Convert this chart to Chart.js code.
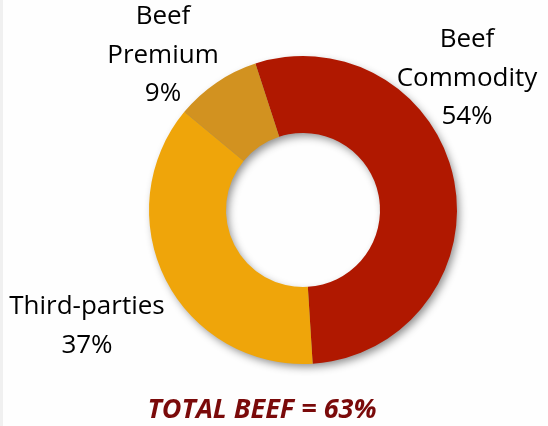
<!DOCTYPE html>
<html>

<head>
   <meta charset="UTF-8">
   <title>Beef Split</title>
   <script src="https://cdn.jsdelivr.net/npm/chart.js@4"></script>
   <style>
      html, body { margin: 0; padding: 0; background: #fefefe; }
      body { width: 548px; height: 426px; border-left: 3px solid #f0f0f0; box-sizing: border-box; }
      #chartBox { position: absolute; left: 0; top: 0; width: 548px; height: 426px; }
   </style>
</head>

<body>
   <div id="chartBox"><canvas id="chart"></canvas></div>

   <script>
      // slices, in drawing order (clockwise from the top boundary)
      const categories = ["Beef Commodity", "Third-parties", "Beef Premium"];
      const shares = [54, 37, 9];
      const colors = ["#b01800", "#efa50a", "#d29220"];
      const title = "TOTAL BEEF = 63%";

      // label lines + where they sit (relative to canvas)
      const labelLines = [
         ["Beef", "Commodity", shares[0] + "%"],
         ["Third-parties", shares[1] + "%"],
         ["Beef", "Premium", shares[2] + "%"]
      ];
      const labelSpots = [
         { x: 467, y: 40 },
         { x: 87, y: 307 },
         { x: 163, y: 17 }
      ];

      const FONT = "'Open Sans', 'Noto Sans', sans-serif";

      // soft drop shadow under the ring (drawn once, so no seams between slices)
      const ringShadow = {
         id: "ringShadow",
         beforeDatasetsDraw(chart) {
            const arc = chart.getDatasetMeta(0).data[0];
            if (!arc) return;
            const { x, y, outerRadius, innerRadius } = arc.getProps(["x", "y", "outerRadius", "innerRadius"], true);
            const ctx = chart.ctx;
            ctx.save();
            ctx.shadowColor = "rgba(0,0,0,0.45)";
            ctx.shadowBlur = 9;
            ctx.shadowOffsetX = 3;
            ctx.shadowOffsetY = 4;
            ctx.fillStyle = "#888";
            ctx.beginPath();
            ctx.arc(x, y, outerRadius - 1, 0, Math.PI * 2);
            ctx.arc(x, y, innerRadius + 1, 0, Math.PI * 2, true);
            ctx.fill();
            ctx.restore();
         }
      };

      // outside labels + bottom title
      const textLayer = {
         id: "textLayer",
         afterDraw(chart) {
            const ctx = chart.ctx;
            ctx.save();
            ctx.textAlign = "center";
            ctx.textBaseline = "middle";
            ctx.fillStyle = "#000";
            ctx.font = "26px " + FONT;
            labelLines.forEach((lines, i) => {
               const spot = labelSpots[i];
               lines.forEach((t, j) => ctx.fillText(t, spot.x, spot.y + j * 38.5));
            });
            ctx.fillStyle = "#7a0a0a";
            ctx.font = "italic bold 27px " + FONT;
            ctx.fillText(title, 262, 410);
            ctx.restore();
         }
      };

      new Chart(document.getElementById("chart"), {
         type: "doughnut",
         data: {
            labels: categories,
            datasets: [{
               data: shares,
               backgroundColor: colors,
               borderWidth: 0,
               hoverOffset: 0
            }]
         },
         options: {
            responsive: true,
            maintainAspectRatio: false,
            animation: false,
            rotation: -18,
            cutout: "50%",
            layout: { padding: { left: 149, right: 91, top: 56, bottom: 62 } },
            plugins: {
               legend: { display: false },
               tooltip: { enabled: false }
            }
         },
         plugins: [ringShadow, textLayer]
      });
   </script>
</body>

</html>
